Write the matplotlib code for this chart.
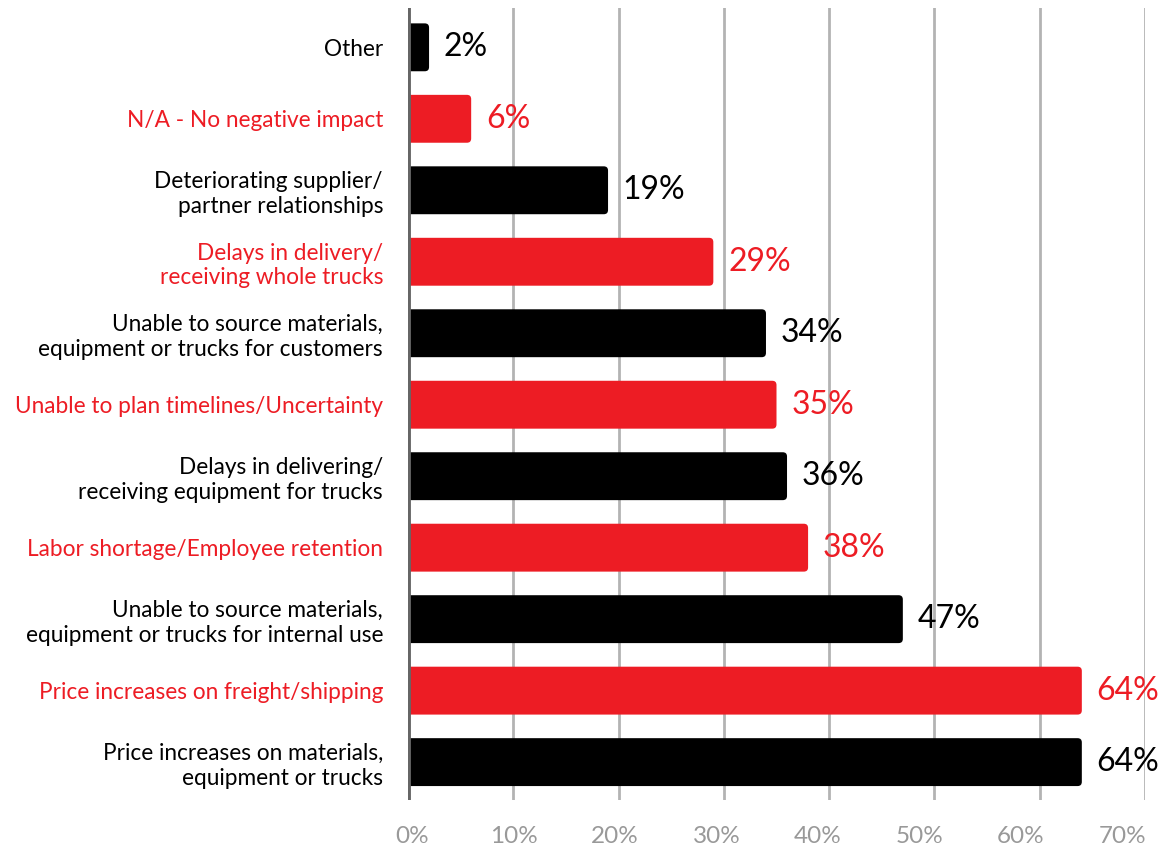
import matplotlib.pyplot as plt
from matplotlib.patches import FancyBboxPatch

plt.rcParams['font.family'] = ['Lato', 'DejaVu Sans']

RED = '#ED1C24'
BLACK = '#000000'

# bottom to top
categories = [
    'Price increases on materials,\nequipment or trucks',
    'Price increases on freight/shipping',
    'Unable to source materials,\nequipment or trucks for internal use',
    'Labor shortage/Employee retention',
    'Delays in delivering/\nreceiving equipment for trucks',
    'Unable to plan timelines/Uncertainty',
    'Unable to source materials,\nequipment or trucks for customers',
    'Delays in delivery/\nreceiving whole trucks',
    'Deteriorating supplier/\npartner relationships',
    'N/A - No negative impact',
    'Other',
]
values = [64, 64, 47, 38, 36, 35, 34, 29, 19, 6, 2]
colors = [BLACK, RED, BLACK, RED, BLACK, RED, BLACK, RED, BLACK, RED, BLACK]
xticks = [0, 10, 20, 30, 40, 50, 60, 70]

fig = plt.figure(figsize=(11.73, 8.47), dpi=100)
ax = fig.add_axes([408 / 1173, 1 - 800 / 847, (1145 - 408) / 1173, (800 - 8) / 847])

ypos = list(range(len(values)))
bars = ax.barh(ypos, values, height=0.67, color=colors)

# swap plain bars for ones with slightly rounded corners
px_x = (1145 - 408) / 70
px_y = 71.5
for b in bars:
    x, y, w, h = b.get_x(), b.get_y(), b.get_width(), b.get_height()
    rounded = FancyBboxPatch((x - 2, y), w + 2, h,
                             boxstyle='round,pad=0,rounding_size=0.4',
                             mutation_aspect=px_x / px_y,
                             facecolor=b.get_facecolor(), edgecolor='none',
                             zorder=3)
    ax.add_patch(rounded)
    b.remove()

for y, v, c in zip(ypos, values, colors):
    ax.text(v + 1.4, y, f'{v}%', va='center', ha='left', fontsize=23, color=c)

ax.set_xlim(0, 70)
ax.set_ylim(-0.53, 10.55)
ax.set_xticks(xticks)
ax.set_xticklabels([])
# axis labels sit on a slightly tighter spacing than the gridlines
label_step = 0.964
for t in xticks:
    ax.text(0.38 + t * label_step, -0.046, f'{t}%', transform=ax.get_xaxis_transform(),
            ha='center', va='center', fontsize=17.5, color='#999999')
ax.set_yticks(ypos)
ax.set_yticklabels(categories, fontsize=16.3)
for lbl, c in zip(ax.get_yticklabels(), colors):
    lbl.set_color(c)
ax.tick_params(axis='y', length=0, pad=18)
ax.tick_params(axis='x', length=0)

ax.grid(axis='x', color='#b3b3b3', linewidth=2, zorder=0)
ax.set_axisbelow(True)
for s in ['top', 'right', 'bottom', 'left']:
    ax.spines[s].set_visible(False)
ax.axvline(0, color='#666666', linewidth=3.5, zorder=4)

fig.savefig('out.png', dpi=100)
